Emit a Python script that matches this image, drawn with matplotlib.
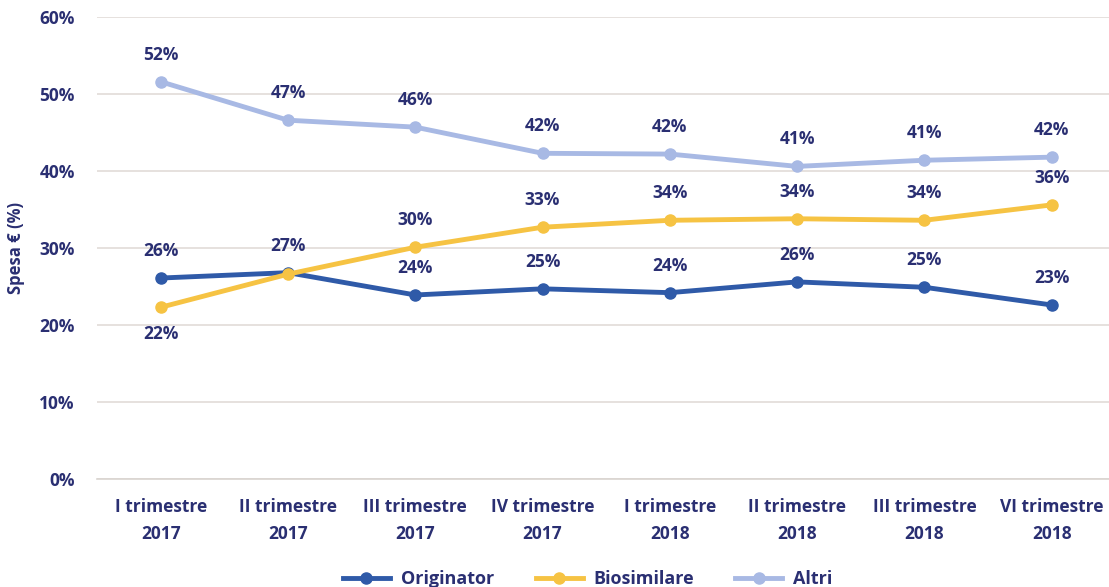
import numpy as np
import matplotlib.pyplot as plt

plt.rcParams['font.family'] = ['Open Sans', 'DejaVu Sans']

quarters = ['I trimestre\n2017', 'II trimestre\n2017', 'III trimestre\n2017', 'IV trimestre\n2017',
            'I trimestre\n2018', 'II trimestre\n2018', 'III trimestre\n2018', 'VI trimestre\n2018']
originator = [26.1, 26.8, 23.9, 24.7, 24.2, 25.6, 24.9, 22.6]
biosimilare = [22.3, 26.6, 30.1, 32.7, 33.6, 33.8, 33.6, 35.6]
altri = [51.6, 46.6, 45.7, 42.3, 42.2, 40.6, 41.4, 41.8]

navy = '#2a2f72'
c_orig = '#2f5aa8'
c_bio = '#f6c343'
c_alt = '#a8b9e4'

fig = plt.figure(figsize=(11.09, 5.87), dpi=100)
ax = fig.add_axes([0.0875, 0.184, 0.9125, 0.787])

x = np.arange(len(quarters))
ax.plot(x, altri, color=c_alt, lw=3.5, marker='o', ms=8, label='Altri', zorder=3)
ax.plot(x, originator, color=c_orig, lw=3.5, marker='o', ms=8, label='Originator', zorder=3)
ax.plot(x, biosimilare, color=c_bio, lw=3.5, marker='o', ms=8, label='Biosimilare', zorder=4)

lab = dict(ha='center', fontsize=12.5, fontweight='bold', color=navy)
for i in range(len(x)):
    ax.annotate(f'{altri[i]:.0f}%', (x[i], altri[i]), xytext=(0, 13), textcoords='offset points', va='bottom', **lab)
    ax.annotate(f'{originator[i]:.0f}%', (x[i], originator[i]), xytext=(0, 13), textcoords='offset points', va='bottom', **lab)
    if i == 0:
        ax.annotate(f'{biosimilare[i]:.0f}%', (x[i], biosimilare[i]), xytext=(0, -13), textcoords='offset points', va='top', **lab)
    elif i != 1:
        ax.annotate(f'{biosimilare[i]:.0f}%', (x[i], biosimilare[i]), xytext=(0, 13), textcoords='offset points', va='bottom', **lab)

ax.set_xlim(-0.5, 7.45)
ax.set_ylim(0, 60)
ax.set_yticks(range(0, 61, 10))
ax.set_yticklabels([f'{v}%' for v in range(0, 61, 10)])
ax.set_xticks(x)
ax.set_xticklabels(quarters, linespacing=1.6)
ax.grid(axis='y', color='#e2dcd8', lw=1.2)
ax.set_axisbelow(True)
for s in ['top', 'right', 'left']:
    ax.spines[s].set_visible(False)
ax.spines['bottom'].set_color('#d9d4d0')
ax.spines['bottom'].set_linewidth(1.2)
ax.tick_params(length=0, pad=14, labelsize=12.5, labelcolor=navy)
ax.tick_params(axis='y', pad=16)
for t in ax.get_xticklabels() + ax.get_yticklabels():
    t.set_fontweight('bold')
ax.set_ylabel('Spesa € (%)', fontsize=12, fontweight='bold', color=navy, labelpad=10)

h, l = ax.get_legend_handles_labels()
order = [1, 2, 0]
fig.legend([h[i] for i in order], [l[i] for i in order], loc='lower center', bbox_to_anchor=(0.53, -0.03),
           ncol=3, frameon=False, handlelength=2.6, columnspacing=2.3, handletextpad=0.6,
           prop={'weight': 'bold', 'size': 13}, labelcolor=navy)

fig.savefig('out.png', dpi=100)
